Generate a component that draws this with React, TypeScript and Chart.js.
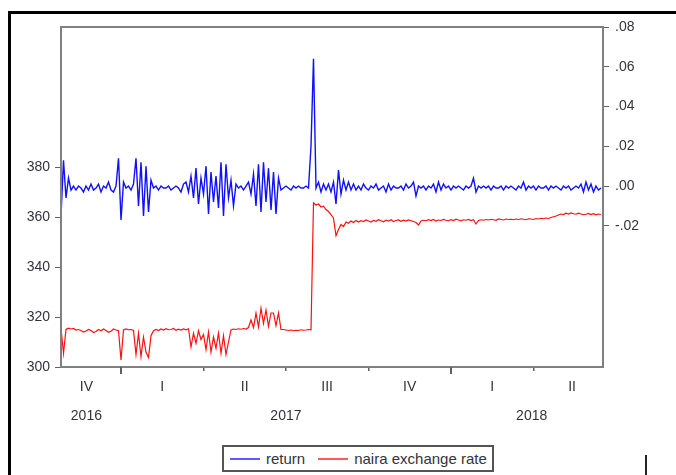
import React, { useEffect, useRef } from 'react';
import { Chart, registerables } from 'chart.js';

Chart.register(...registerables);

const seriesLabels = ['return', 'naira exchange rate'];

// daily "return" series (right axis)
const returnValues = [
  -0.015, 0.013, -0.006, 0.004, -0.002, 0.000, -0.002, 0.000, -0.001, -0.003,
  0.000, -0.002, 0.001, -0.002, -0.001, 0.001, -0.003, 0.000, -0.001, 0.002,
  -0.002, -0.003, 0.000, 0.014, -0.017, 0.002, -0.001, 0.000, -0.002, 0.001,
  0.014, -0.010, 0.012, -0.015, 0.010, -0.013, 0.003, -0.001, 0.000, -0.002,
  0.000, -0.001, -0.001, 0.000, -0.002, -0.001, 0.000, -0.001, -0.003, 0.001,
  0.002, -0.003, 0.005, -0.006, 0.009, -0.009, 0.004, -0.004, 0.010, -0.014,
  0.007, -0.008, 0.005, -0.011, 0.012, -0.015, 0.011, -0.006, 0.003, -0.010,
  0.001, -0.001, 0.000, -0.002, 0.000, 0.002, -0.004, 0.006, -0.010, 0.011,
  -0.013, 0.012, -0.008, 0.009, -0.012, 0.007, -0.014, 0.004, -0.002, -0.001,
  0.000, -0.001, -0.002, 0.000, -0.001, 0.000, -0.001, -0.001, 0.000, -0.001,
  0.020, 0.064, -0.001, 0.002, -0.003, 0.001, -0.002, 0.001, -0.003, 0.002,
  -0.009, 0.008, -0.004, 0.003, -0.002, 0.002, -0.002, 0.001, -0.002, 0.000,
  -0.002, 0.001, -0.001, -0.002, 0.000, -0.001, 0.001, -0.002, -0.001, 0.000,
  -0.003, 0.001, -0.002, 0.000, -0.001, -0.001, 0.000, -0.002, 0.001, -0.001,
  0.000, 0.002, -0.005, 0.000, -0.001, 0.000, -0.002, 0.000, -0.001, 0.001,
  -0.003, 0.002, -0.002, 0.001, -0.001, 0.000, -0.002, 0.000, -0.001, 0.000,
  -0.001, -0.002, 0.000, -0.001, 0.000, 0.004, -0.003, 0.000, -0.001, 0.000,
  -0.001, 0.000, -0.002, 0.000, -0.001, -0.001, 0.000, -0.002, 0.000, -0.001,
  0.000, -0.001, -0.002, 0.000, -0.001, 0.002, -0.002, 0.000, -0.001, 0.000,
  -0.002, 0.000, -0.001, -0.001, 0.000, -0.002, 0.000, -0.001, 0.000, -0.001,
  -0.002, 0.000, -0.001, 0.000, -0.002, -0.001, 0.000, -0.001, 0.001, -0.003,
  0.002, -0.002, 0.001, -0.003, 0.000, -0.002, -0.001,
];

// daily naira exchange rate (left axis)
const nairaValues = [
  315.5, 305.5, 315.0, 315.5, 315.2, 315.4, 314.8, 315.0, 314.6, 314.0,
  314.4, 315.0, 314.6, 313.8, 314.2, 315.0, 314.5, 315.2, 314.6, 313.9,
  314.3, 315.2, 314.8, 314.5, 302.8, 314.8, 315.2, 314.9, 315.0, 314.6,
  305.0, 313.5, 304.2, 312.0, 306.0, 303.8, 312.5, 314.5, 315.0, 314.6,
  315.2, 314.8, 315.3, 314.9, 315.0, 315.4, 314.7, 315.1, 314.8, 315.2,
  314.9, 315.3, 308.0, 313.5, 309.5, 314.5, 311.0, 313.0, 307.0, 314.0,
  306.0, 312.0, 307.5, 313.5, 305.5, 312.5, 305.0, 310.0, 314.8, 315.2,
  315.0, 315.3, 315.1, 315.4, 315.2, 315.8, 318.8, 315.8, 321.5, 316.0,
  323.5, 317.5, 322.8, 316.2, 321.6, 321.6, 316.5, 321.6, 315.0, 315.0,
  314.8, 314.6, 314.8, 314.5, 314.7, 314.6, 314.9, 314.7, 314.8, 315.0,
  314.9, 365.7, 364.8, 365.2, 364.0, 364.3, 363.0, 362.2, 361.0, 359.5,
  352.5, 355.0, 357.0, 356.2, 358.0, 357.5, 358.4, 357.8, 358.6, 358.0,
  358.5, 358.2, 358.8, 358.4, 358.0, 358.6, 358.3, 358.9, 358.5, 358.1,
  358.7, 358.4, 358.9, 358.2, 358.6, 358.8, 358.3, 358.7, 358.4, 358.8,
  358.5, 358.2, 357.8, 356.8, 358.4, 358.7, 358.5, 358.9, 358.6, 359.0,
  358.4, 358.8, 358.6, 359.0, 358.7, 358.5, 358.9, 358.6, 359.1, 358.8,
  358.5, 358.9, 358.7, 359.0, 358.6, 358.9, 357.2, 358.6, 358.9, 358.7,
  359.0, 358.8, 359.1, 358.9, 358.7, 359.2, 359.0, 358.8, 359.2, 359.0,
  359.1, 358.9, 359.2, 359.0, 359.3, 359.1, 358.9, 359.3, 359.2, 359.0,
  359.4, 359.2, 359.5, 359.3, 359.6, 359.4, 359.8, 360.1, 360.4, 360.8,
  361.2, 361.0, 361.5, 361.2, 361.6, 361.3, 361.1, 361.5, 361.2, 360.9,
  361.1, 361.4, 361.0, 361.3, 360.9, 361.2, 361.0,
];

const leftTicks = [300, 320, 340, 360, 380];
const rightTicks = [-0.02, 0, 0.02, 0.04, 0.06, 0.08];
const rightTickLabels = ['-.02', '.00', '.02', '.04', '.06', '.08'];

// time axis measured in quarters since the start of 2016Q4
const quarterBoundaries = [1, 2, 3, 4, 5, 6];
const yearBoundaries = [1, 5];
const quarterLabels = ['IV', 'I', 'II', 'III', 'IV', 'I', 'II'];
const quarterLabelPos = [0.58, 1.5, 2.5, 3.5, 4.5, 5.5, 6.47];
const yearLabels = ['2016', '2017', '2018'];
const yearLabelPos = [0.58, 3.0, 5.98];

const OBS_START = 0.272; // date of first observation (quarters)
const OBS_STEP = 0.030318; // spacing between observations (quarters)
const X_MIN = 0.272;
const X_MAX = 6.845;
const LEFT_MIN = 300;
const LEFT_MAX = 436;
const RIGHT_MIN = -0.091;
const RIGHT_MAX = 0.08;

const FONT = "'Liberation Sans', Arial, sans-serif";
const TEXT = '#33333d';
const AXIS = '#808080';

export default function App() {
  const ref = useRef<HTMLCanvasElement>(null);

  useEffect(() => {
    if (!ref.current) return;
    const framePlugin = {
      id: 'frame',
      afterDraw(chart: any) {
        const { ctx, chartArea: a, scales } = chart;
        ctx.save();
        ctx.strokeStyle = AXIS;
        ctx.lineWidth = 2;
        ctx.strokeRect(a.left, a.top, a.right - a.left, a.bottom - a.top);
        ctx.strokeStyle = '#606060';
        ctx.lineWidth = 2;
        yearBoundaries.forEach((v) => {
          const px = Math.round(scales.x.getPixelForValue(v));
          ctx.beginPath();
          ctx.moveTo(px, a.bottom);
          ctx.lineTo(px, a.bottom + 7);
          ctx.stroke();
        });
        ctx.restore();
      },
    };

    const chart = new Chart(ref.current, {
      type: 'line',
      data: {
        datasets: [
          {
            label: seriesLabels[0],
            data: returnValues.map((v, i) => ({ x: OBS_START + i * OBS_STEP, y: v })),
            yAxisID: 'y1',
            borderColor: '#1010ff',
            borderWidth: 1.4,
            pointRadius: 0,
            tension: 0,
          },
          {
            label: seriesLabels[1],
            data: nairaValues.map((v, i) => ({ x: OBS_START + i * OBS_STEP, y: v })),
            yAxisID: 'y',
            borderColor: '#ff1010',
            borderWidth: 1.2,
            pointRadius: 0,
            tension: 0,
          },
        ],
      },
      options: {
        responsive: false,
        animation: false,
        layout: { padding: { top: 27, bottom: 48, left: 0, right: 0 } },
        plugins: { legend: { display: false }, tooltip: { enabled: false } },
        scales: {
          x: {
            type: 'linear',
            position: 'bottom',
            weight: 0,
            min: X_MIN,
            max: X_MAX,
            afterBuildTicks: (s: any) => {
              s.ticks = quarterBoundaries.map((v) => ({ value: v }));
            },
            afterFit: (s: any) => {
              s.height = 8;
            },
            ticks: { display: false },
            grid: { drawOnChartArea: false, drawTicks: true, tickLength: 4, color: '#606060', lineWidth: 1.5 },
            border: { display: true, color: AXIS, width: 2 },
          },
          xq: {
            type: 'linear',
            position: 'bottom',
            weight: 1,
            min: X_MIN,
            max: X_MAX,
            afterBuildTicks: (s: any) => {
              s.ticks = quarterLabelPos.map((v) => ({ value: v }));
            },
            afterFit: (s: any) => {
              s.height = 22;
            },
            ticks: {
              autoSkip: false,
              maxRotation: 0,
              padding: 4,
              font: { family: FONT, size: 14 },
              color: TEXT,
              callback: (_v: any, i: number) => quarterLabels[i],
            },
            grid: { display: false, drawTicks: false },
            border: { display: false },
          },
          xy: {
            type: 'linear',
            position: 'bottom',
            weight: 2,
            min: X_MIN,
            max: X_MAX,
            afterBuildTicks: (s: any) => {
              s.ticks = yearLabelPos.map((v) => ({ value: v }));
            },
            afterFit: (s: any) => {
              s.height = 30;
            },
            ticks: {
              autoSkip: false,
              maxRotation: 0,
              padding: 11,
              font: { family: FONT, size: 14 },
              color: TEXT,
              callback: (_v: any, i: number) => yearLabels[i],
            },
            grid: { display: false, drawTicks: false },
            border: { display: false },
          },
          y: {
            type: 'linear',
            position: 'left',
            min: LEFT_MIN,
            max: LEFT_MAX,
            afterBuildTicks: (s: any) => {
              s.ticks = leftTicks.map((v) => ({ value: v }));
            },
            afterFit: (s: any) => {
              s.width = 61;
            },
            ticks: { padding: 5, font: { family: FONT, size: 14 }, color: TEXT },
            grid: { drawOnChartArea: false, tickLength: 6, color: '#606060' },
            border: { color: AXIS, width: 2 },
          },
          y1: {
            type: 'linear',
            position: 'right',
            min: RIGHT_MIN,
            max: RIGHT_MAX,
            afterBuildTicks: (s: any) => {
              s.ticks = rightTicks.map((v) => ({ value: v }));
            },
            afterFit: (s: any) => {
              s.width = 73;
            },
            ticks: {
              padding: 6,
              font: { family: FONT, size: 14 },
              color: TEXT,
              callback: (_v: any, i: number) => rightTickLabels[i],
            },
            grid: { drawOnChartArea: false, tickLength: 6, color: '#606060' },
            border: { color: AXIS, width: 2 },
          },
        },
      },
      plugins: [framePlugin],
    } as any);
    return () => chart.destroy();
  }, []);

  return (
    <div style={{ position: 'fixed', left: 0, top: 0, width: 676, height: 475, background: '#fff', overflow: 'hidden' }}>
      <canvas ref={ref} width={676} height={475} style={{ display: 'block', position: 'absolute', left: 0, top: 0 }} />
      <div style={{ position: 'absolute', left: 8, top: 11, width: 668, height: 464, borderTop: '3px solid #000', borderLeft: '3px solid #000', boxSizing: 'border-box', pointerEvents: 'none' }} />
      <div style={{ position: 'absolute', left: 645, top: 455, width: 2, height: 20, background: '#222' }} />
      <div
        style={{
          position: 'absolute', left: 222, top: 445, width: 272, height: 27, border: '2px solid #555',
          boxSizing: 'border-box', display: 'flex', alignItems: 'center', fontFamily: FONT, fontSize: 15,
          color: TEXT, background: '#fff', whiteSpace: 'nowrap',
        }}
      >
        <span style={{ display: 'inline-block', width: 30, borderTop: '2px solid #5a5aff', marginLeft: 6, marginRight: 6 }} />
        <span>{seriesLabels[0]}</span>
        <span style={{ display: 'inline-block', width: 30, borderTop: '2px solid #ff5a5a', marginLeft: 13, marginRight: 6 }} />
        <span>{seriesLabels[1]}</span>
      </div>
    </div>
  );
}
